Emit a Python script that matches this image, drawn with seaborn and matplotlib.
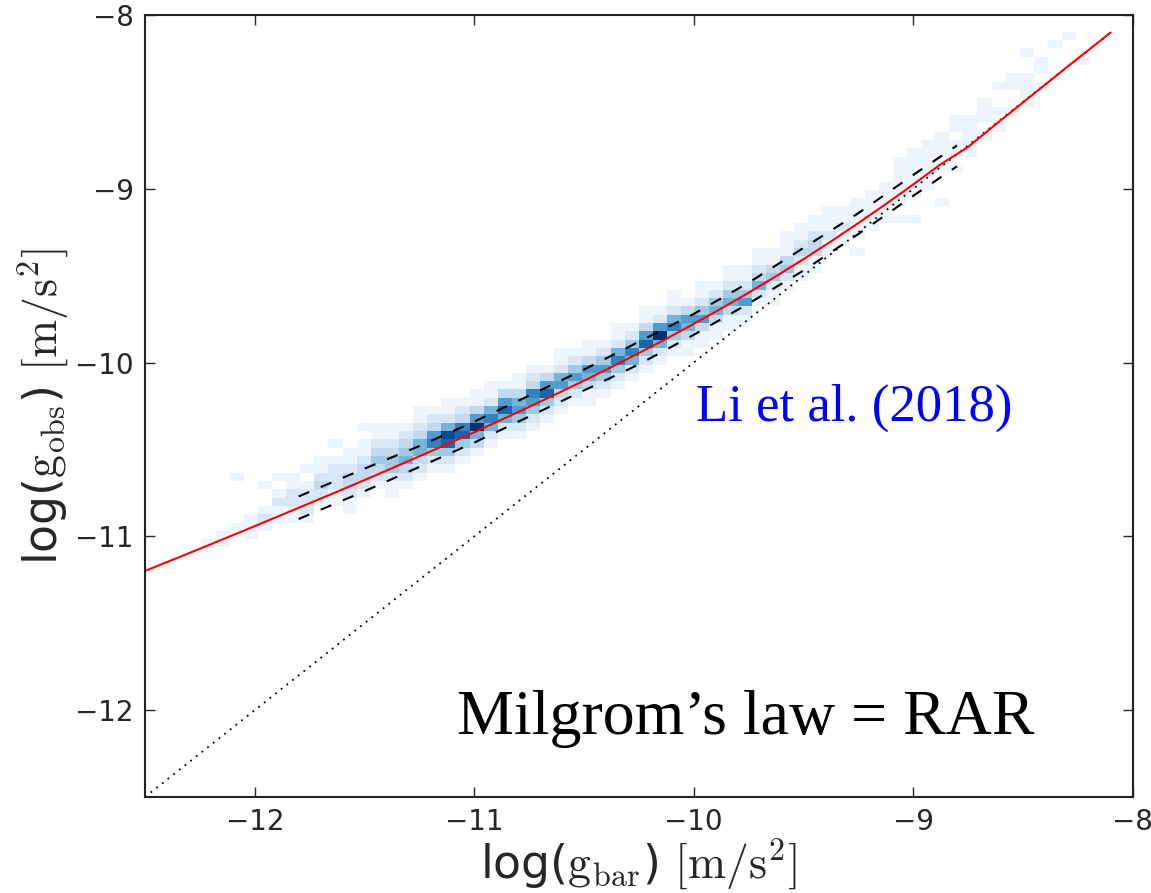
import matplotlib

matplotlib.use("Agg")

import matplotlib.pyplot as plt
import numpy as np
import pandas as pd
import seaborn as sns

# 2D histogram of the RAR data: one entry per x column,
# y of the lowest cell and counts going upwards cell by cell
col_x = [
    -12.211, -12.146, -12.082, -12.018, -11.954, -11.889, -11.825, -11.761,
    -11.696, -11.632, -11.568, -11.504, -11.439, -11.375, -11.311, -11.246,
    -11.182, -11.118, -11.054, -10.989, -10.925, -10.861, -10.796, -10.732,
    -10.668, -10.604, -10.539, -10.475, -10.411, -10.346, -10.282, -10.218,
    -10.154, -10.089, -10.025, -9.961, -9.896, -9.832, -9.768, -9.704,
    -9.639, -9.575, -9.511, -9.446, -9.382, -9.318, -9.254, -9.189,
    -9.125, -9.061, -8.996, -8.932, -8.868, -8.804, -8.739, -8.675,
    -8.611, -8.546, -8.482, -8.418, -8.354, -8.289, -8.225,
]
col_ylo = [
    -11.040, -11.040, -10.944, -10.992, -10.944, -10.896, -10.896, -10.896,
    -10.848, -10.800, -10.848, -10.753, -10.705, -10.753, -10.705, -10.657,
    -10.609, -10.609, -10.561, -10.513, -10.465, -10.418, -10.418, -10.370,
    -10.322, -10.274, -10.226, -10.226, -10.178, -10.130, -10.082, -10.035,
    -9.987, -9.939, -9.939, -9.891, -9.843, -9.795, -9.747, -9.652,
    -9.652, -9.556, -9.508, -9.460, -9.364, -9.317, -9.364, -9.221,
    -9.173, -9.173, -9.173, -8.981, -9.077, -8.886, -8.790, -8.694,
    -8.646, -8.551, -8.503, -8.407, -8.168, -8.120, -8.263,
]
col_counts = [
    [1], [1, 1], [1, 0, 0, 0, 0, 0, 1], [1, 1, 1],
    [1, 2, 1, 0, 0, 1], [1, 1, 2, 1, 0, 1], [1, 1, 2, 2, 1, 1], [1, 2, 2, 2, 1, 0, 1],
    [0, 1, 2, 3, 2, 1, 1], [1, 1, 2, 2, 2, 1, 0, 1], [1, 1, 2, 3, 3, 2, 1, 1], [1, 2, 3, 3, 2, 1, 1, 0, 1],
    [1, 2, 3, 4, 3, 2, 1, 1], [1, 1, 2, 4, 4, 3, 2, 1, 1], [1, 2, 3, 5, 4, 3, 2, 1], [1, 2, 3, 5, 5, 3, 2, 1, 1],
    [1, 2, 4, 7, 6, 3, 2, 1], [1, 2, 4, 8, 9, 5, 2, 1, 1], [1, 2, 4, 8, 7, 3, 2, 1], [1, 3, 5, 10, 6, 3, 1, 1],
    [1, 2, 5, 7, 5, 2, 1, 1], [1, 2, 5, 8, 6, 3, 1], [1, 2, 4, 6, 5, 3, 1, 1], [1, 2, 4, 6, 7, 3, 2, 1],
    [1, 2, 4, 8, 6, 3, 1], [1, 2, 3, 6, 5, 2, 1, 1], [1, 2, 4, 6, 4, 2, 1], [1, 1, 3, 5, 6, 3, 1, 1],
    [1, 2, 4, 6, 4, 2, 1], [1, 2, 4, 7, 5, 2, 1, 1], [1, 2, 5, 7, 4, 2, 1], [1, 2, 4, 8, 6, 3, 1, 1],
    [1, 2, 5, 10, 6, 2, 1], [1, 2, 4, 7, 5, 2, 1, 1], [1, 1, 3, 5, 6, 3, 1], [1, 1, 3, 6, 4, 2, 1, 1],
    [1, 1, 3, 5, 4, 2, 1], [1, 1, 3, 5, 4, 2, 1, 1], [1, 2, 6, 4, 2, 1, 1], [1, 2, 5, 3, 2, 1, 1],
    [1, 1, 2, 4, 3, 1, 1], [1, 2, 4, 3, 1, 1, 1], [1, 1, 2, 3, 2, 1, 1], [1, 1, 3, 3, 2, 1, 1],
    [1, 1, 2, 1, 1, 1], [1, 1, 2, 1, 1], [1, 0, 1, 1, 1, 1, 1], [1, 1, 1, 1, 1],
    [1, 1, 1, 1, 1], [1, 0, 1, 1, 1, 1, 1, 1], [1, 0, 0, 1, 1, 1, 1, 1, 1], [1, 1, 1, 1, 1, 1],
    [1, 0, 0, 0, 1, 1, 1, 1, 1], [1, 0, 1, 1, 0, 1, 1], [1, 1, 1, 1, 1], [1, 0, 1, 1, 1],
    [1, 0, 1, 0, 0, 1], [1, 0, 0, 1, 1], [1, 1, 1, 1, 0, 0, 1], [1, 0, 1, 1],
    [1], [1], [1],
]

# fitted RAR (red) and +/- scatter (dashed)
rar_x = [-12.5, -12.375, -12.25, -12.125, -12.0, -11.875, -11.75, -11.625, -11.5,
         -11.375, -11.25, -11.125, -11.0, -10.875, -10.75, -10.625, -10.5, -10.375,
         -10.25, -10.125, -10.0, -9.875, -9.75, -9.625, -9.5, -9.375, -9.25, -9.125,
         -9.0, -8.875, -8.75, -8.625, -8.5, -8.3, -8.1]
rar_y = [-11.199, -11.135, -11.071, -11.006, -10.941, -10.875, -10.809, -10.743, -10.676,
         -10.608, -10.539, -10.470, -10.401, -10.328, -10.255, -10.180, -10.104, -10.026,
         -9.945, -9.863, -9.777, -9.689, -9.598, -9.503, -9.405, -9.303, -9.197, -9.088,
         -8.975, -8.859, -8.759, -8.630, -8.503, -8.300, -8.100]
band_x = [-11.8, -11.5, -11.25, -11.0, -10.75, -10.5, -10.25, -10.0, -9.75,
          -9.5, -9.25, -9.0, -8.8]
band_hi = [-10.77, -10.61, -10.48, -10.34, -10.19, -10.04, -9.88, -9.72, -9.54,
           -9.34, -9.14, -8.92, -8.75]
band_lo = [-10.90, -10.74, -10.60, -10.46, -10.31, -10.16, -10.01, -9.84, -9.66,
           -9.47, -9.26, -9.04, -8.87]
one_x = [-12.5, -8.1]
one_y = [-12.5, -8.1]

LO, HI = -12.5, -8.0
X_EDGES = np.linspace(LO, HI, 71)
Y_EDGES = np.linspace(LO, HI, 95)
YBIN = Y_EDGES[1] - Y_EDGES[0]

rows = []
for x0, y0, counts in zip(col_x, col_ylo, col_counts):
    for k, n in enumerate(counts):
        if n:
            rows.append((x0, y0 + k * YBIN, n))
cells = pd.DataFrame(rows, columns=["gbar", "gobs", "n"])

sns.set_style("ticks")
plt.rcParams["font.family"] = ["DejaVu Sans"]
plt.rcParams["mathtext.fontset"] = "cm"

fig, ax = plt.subplots(figsize=(11.51, 8.93), dpi=100)
fig.subplots_adjust(left=0.126, right=0.984, bottom=0.1075, top=0.983)

sns.histplot(data=cells, x="gbar", y="gobs", weights="n", bins=[X_EDGES, Y_EDGES],
             cmap="Blues", vmin=0.5, vmax=10, ax=ax)

ax.plot(one_x, one_y, color="black", lw=1.3, linestyle=(0, (1, 3)))
ax.plot(band_x, band_hi, color="black", lw=1.5, linestyle=(0, (5.5, 6)))
ax.plot(band_x, band_lo, color="black", lw=1.5, linestyle=(0, (5.5, 6)))
ax.plot(rar_x, rar_y, color="red", lw=1.5)

ax.set_xlim(LO, HI)
ax.set_ylim(LO, HI)
ax.set_xticks([-12, -11, -10, -9, -8])
ax.set_yticks([-12, -11, -10, -9, -8])
ax.tick_params(direction="in", length=7, width=1, labelsize=20, top=True, right=True, pad=8)
for s in ax.spines.values():
    s.set_linewidth(1.5)
    s.set_color("#222222")

ax.set_xlabel("log(" + r"$\mathrm{g_{bar}}$" + ") " + r"$[\mathrm{m/s^2}]$", fontsize=33, labelpad=0)
ax.set_ylabel("log(" + r"$\mathrm{g_{obs}}$" + ") " + r"$[\mathrm{m/s^2}]$", fontsize=33, labelpad=4)

ax.text(-9.99, -10.26, "Li et al. (2018)", color="blue", fontsize=38,
        family=["Liberation Serif", "DejaVu Serif"], ha="left", va="center")
ax.text(-11.08, -12.05, "Milgrom\u2019s law = RAR", color="black", fontsize=46,
        family=["Liberation Serif", "DejaVu Serif"], ha="left", va="center")

plt.savefig("out.png", dpi=100)
plt.close(fig)
